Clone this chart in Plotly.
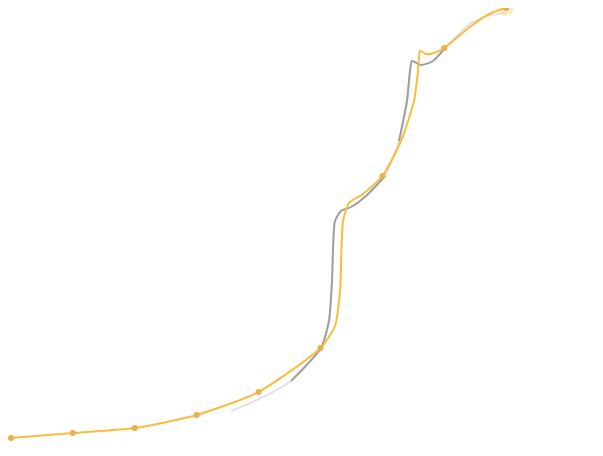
import plotly.graph_objs as go

# main series (category index, value)
idx = [0, 1, 2, 3, 4, 5, 6, 7, 8]
values = [10, 15, 20, 33, 56, 100, 272, 400, 440]

# orange curve as drawn (includes in-between points of the transition)
curve_x = [0, 1, 2, 3, 4, 5, 5.234, 5.315, 5.364, 5.46, 5.687, 6, 6.3, 6.511,
           6.575, 6.608, 6.704, 6.834, 7, 7.431, 7.755, 8]
curve_y = [10, 15, 20, 33, 56, 100, 122, 157, 227, 245, 254, 272, 307, 347,
           377, 397, 394, 395, 400, 422, 435, 440]

# previous-state grey trail
trail_x = [3.554, 4.039, 4.523, 5.008, 5.137, 5.186, 5.234, 5.331, 5.493, 5.735,
           6.042, 6.268, 6.397, 6.446, 6.478, 6.624, 6.817, 7.011, 7.431, 7.755, 8]
trail_y = [37, 50, 67, 100, 127, 167, 227, 237, 241, 252,
           272, 307, 347, 377, 387, 383, 387, 400, 425, 433, 435]

fig = go.Figure()

# faded full trail
fig.add_trace(go.Scatter(x=trail_x, y=trail_y, mode='lines',
                         line=dict(color='#e2e2e2', width=2, shape='spline', smoothing=0.6),
                         hoverinfo='skip'))
# darker middle parts of the trail
fig.add_trace(go.Scatter(x=trail_x[2:11], y=trail_y[2:11], mode='lines',
                         line=dict(color='#a0a0a0', width=2, shape='spline', smoothing=0.6),
                         hoverinfo='skip'))
fig.add_trace(go.Scatter(x=trail_x[11:18], y=trail_y[11:18], mode='lines',
                         line=dict(color='#a0a0a0', width=2, shape='spline', smoothing=0.6),
                         hoverinfo='skip'))

fig.add_trace(go.Scatter(x=curve_x, y=curve_y, mode='lines',
                         line=dict(color='#fbbc3c', width=2, shape='spline', smoothing=0.6),
                         hoverinfo='skip'))

# halo on the last point
fig.add_trace(go.Scatter(x=idx[-1:], y=values[-1:], mode='markers',
                         marker=dict(size=16, color='rgba(251,188,60,0.25)'),
                         hoverinfo='skip'))
fig.add_trace(go.Scatter(x=idx, y=values, mode='markers',
                         marker=dict(size=6, color='#eab04a')))

fig.update_layout(width=603, height=456, showlegend=False,
                  margin=dict(l=0, r=0, t=0, b=0),
                  paper_bgcolor='white', plot_bgcolor='white')
# ranges offset to compensate for the page's default body margin
fig.update_xaxes(visible=False, range=[-0.0485, 9.693])
fig.update_yaxes(visible=False, range=[-16, 440])

fig.write_html("out.html")
